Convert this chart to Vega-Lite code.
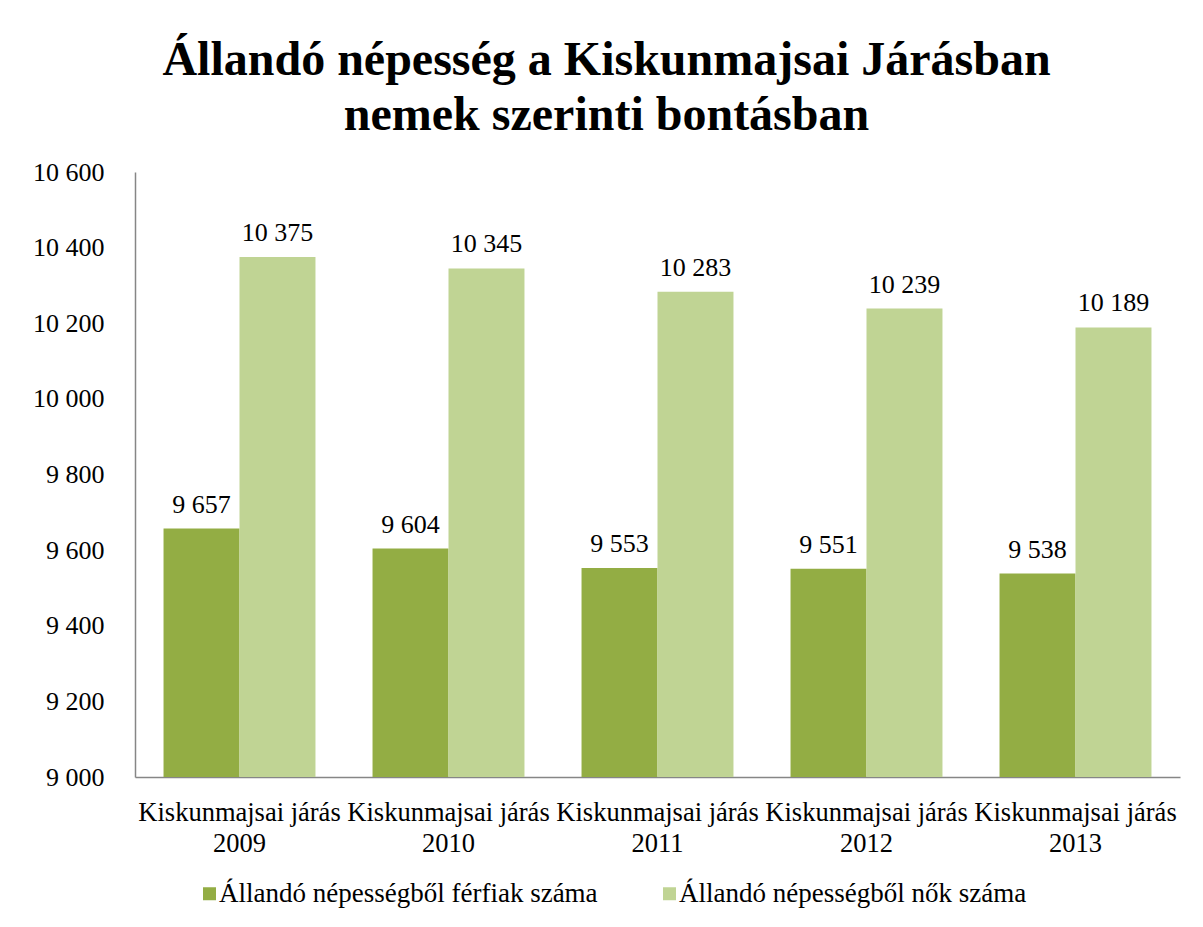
{
  "$schema": "https://vega.github.io/schema/vega-lite/v6.json",
  "width": 1045,
  "height": 605,
  "autosize": {"type": "none"},
  "padding": {"left": 135, "top": 172, "right": 23, "bottom": 150},
  "background": "white",
  "config": {
    "locale": {"number": {"decimal": ",", "thousands": " ", "grouping": [3], "currency": ["", ""]}},
    "view": {"stroke": null},
    "font": "Liberation Serif",
    "text": {"font": "Liberation Serif"},
    "legend": {"labelFont": "Liberation Serif"},
    "axis": {"labelFont": "Liberation Serif"}
  },
  "title": {
    "text": ["Állandó népesség a Kiskunmajsai Járásban", "nemek szerinti bontásban"],
    "font": "Liberation Serif",
    "fontSize": 48,
    "fontWeight": "bold",
    "lineHeight": 55,
    "color": "#000000",
    "anchor": "middle",
    "frame": "group",
    "dx": -51,
    "offset": 19
  },
  "data": {
    "values": [
      {"year": "2009", "series": "Állandó népességből férfiak száma", "value": 9657},
      {"year": "2009", "series": "Állandó népességből nők száma", "value": 10375},
      {"year": "2010", "series": "Állandó népességből férfiak száma", "value": 9604},
      {"year": "2010", "series": "Állandó népességből nők száma", "value": 10345},
      {"year": "2011", "series": "Állandó népességből férfiak száma", "value": 9553},
      {"year": "2011", "series": "Állandó népességből nők száma", "value": 10283},
      {"year": "2012", "series": "Állandó népességből férfiak száma", "value": 9551},
      {"year": "2012", "series": "Állandó népességből nők száma", "value": 10239},
      {"year": "2013", "series": "Állandó népességből férfiak száma", "value": 9538},
      {"year": "2013", "series": "Állandó népességből nők száma", "value": 10189}
    ]
  },
  "encoding": {
    "x": {
      "field": "year",
      "type": "nominal",
      "scale": {"paddingInner": 0.273, "paddingOuter": 0.1365},
      "axis": {
        "title": null,
        "labelAngle": 0,
        "labelExpr": "['Kiskunmajsai járás', datum.value]",
        "labelFontSize": 26.5,
        "labelColor": "#000000",
        "labelLineHeight": 31,
        "labelPadding": 22,
        "labelLimit": 400,
        "labelOverlap": false,
        "ticks": false,
        "domainColor": "#868686",
        "domainWidth": 1.5
      }
    },
    "xOffset": {"field": "series", "type": "nominal"},
    "y": {
      "field": "value",
      "type": "quantitative",
      "scale": {"domain": [9000, 10600], "nice": false, "zero": false},
      "axis": {
        "title": null,
        "values": [9000, 9200, 9400, 9600, 9800, 10000, 10200, 10400, 10600],
        "labelExpr": "format(datum.value, ',.0f')",
        "labelFontSize": 26,
        "labelColor": "#000000",
        "labelPadding": 31,
        "ticks": false,
        "grid": false,
        "domainColor": "#868686",
        "domainWidth": 1.5
      }
    }
  },
  "layer": [
    {
      "mark": {"type": "bar"},
      "encoding": {
        "y2": {"datum": 9000},
        "color": {
          "field": "series",
          "type": "nominal",
          "scale": {"range": ["#93AD44", "#C0D494"]},
          "legend": {
            "title": null,
            "orient": "none",
            "direction": "horizontal",
            "legendX": 61,
            "legendY": 708,
            "symbolType": "square",
            "symbolSize": 169,
            "symbolStrokeWidth": 0,
            "labelFontSize": 27,
            "labelColor": "#000000",
            "labelOffset": -4,
            "columnPadding": 58,
            "labelLimit": 600
          }
        }
      }
    },
    {
      "mark": {"type": "text", "baseline": "alphabetic", "dy": -16, "fontSize": 26, "color": "#000000"},
      "encoding": {
        "text": {"field": "value", "type": "quantitative", "format": ",.0f"}
      }
    }
  ]
}
